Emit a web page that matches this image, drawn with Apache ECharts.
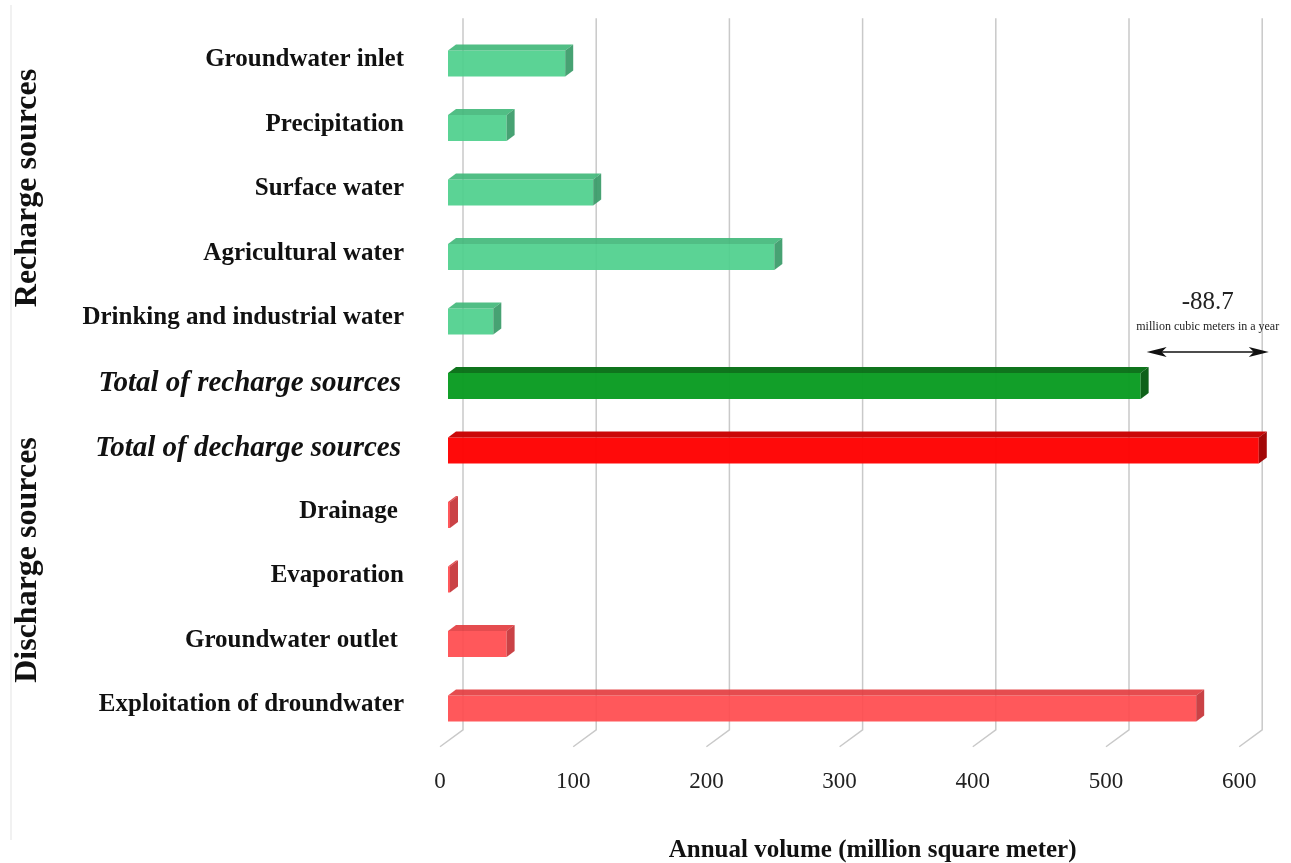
<!DOCTYPE html>
<html>
<head>
<meta charset="utf-8">
<script src="https://cdn.jsdelivr.net/npm/echarts@6/dist/echarts.min.js"></script>
<style>
  html, body { margin: 0; padding: 0; background: #ffffff; }
  #chart { width: 1291px; height: 863px; }
</style>
</head>
<body>
<div id="chart"></div>
<script>
// Annual groundwater budget (million cubic meters per year)
const rechargeNames = ['Groundwater inlet', 'Precipitation', 'Surface water', 'Agricultural water', 'Drinking and industrial water'];
const rechargeValues = [88, 44, 109, 245, 34];
const totalNames = ['Total of recharge sources', 'Total of decharge sources'];
const totalValues = [520, 608.7];
const dischargeNames = ['Drainage ', 'Evaporation', 'Groundwater outlet ', 'Exploitation of droundwater'];
const dischargeValues = [1.5, 1.5, 44, 561.7];
const xTicks = [0, 100, 200, 300, 400, 500, 600];

const SERIF = "'Liberation Serif', 'Times New Roman', 'DejaVu Serif', serif";

// bar kinds: 0 recharge item, 1 recharge total, 2 discharge total, 3 discharge item
const PALETTE = [
  { front: '#4dcf8c', top: '#42b87b', side: '#379a67' },
  { front: '#0a9c22', top: '#077016', side: '#065c12' },
  { front: '#ff0202', top: '#c80000', side: '#a00000' },
  { front: '#ff4a4d', top: '#e33d40', side: '#c53236' }
];

const categories = [...rechargeNames, ...totalNames, ...dischargeNames];
const barData = [];
rechargeValues.forEach((v, i) => barData.push([v, i, 0]));
barData.push([totalValues[0], rechargeNames.length, 1]);
barData.push([totalValues[1], rechargeNames.length + 1, 2]);
dischargeValues.forEach((v, i) => barData.push([v, rechargeNames.length + 2 + i, 3]));

const totalRows = [rechargeNames.length, rechargeNames.length + 1];
const balance = (totalValues[0] - totalValues[1]).toFixed(1);

const BAR_H = 26, DEPTH_X = 8, DEPTH_Y = 6;

function renderBar(params, api) {
  const v = api.value(0), row = api.value(1), kind = api.value(2);
  const p0 = api.coord([0, row]);
  const p1 = api.coord([v, row]);
  const x0 = p0[0], x1 = p1[0];
  const yT = p0[1] - BAR_H / 2, yB = p0[1] + BAR_H / 2;
  const pal = PALETTE[kind];
  const op = (kind === 0 || kind === 3) ? 0.92 : 0.97;
  return {
    type: 'group',
    children: [
      { type: 'rect', shape: { x: x0, y: yT, width: x1 - x0, height: BAR_H }, style: { fill: pal.front, opacity: op } },
      { type: 'polygon', shape: { points: [[x0, yT], [x0 + DEPTH_X, yT - DEPTH_Y], [x1 + DEPTH_X, yT - DEPTH_Y], [x1, yT]] }, style: { fill: pal.top, opacity: op } },
      { type: 'polygon', shape: { points: [[x1, yT], [x1 + DEPTH_X, yT - DEPTH_Y], [x1 + DEPTH_X, yB - DEPTH_Y], [x1, yB]] }, style: { fill: pal.side, opacity: op } }
    ]
  };
}

function renderGridLine(params, api) {
  const cs = params.coordSys;
  const x = api.coord([api.value(0), 0])[0];
  const top = cs.y - 13, back = cs.y + cs.height - 11, front = cs.y + cs.height + 6;
  return {
    type: 'polyline',
    shape: { points: [[x + 15, top], [x + 15, back], [x - 8, front]] },
    style: { stroke: '#c9c9c9', lineWidth: 1.5, fill: null }
  };
}

function renderBalance(params, api) {
  const row = api.value(2);
  const a = api.coord([api.value(0), row]);
  const b = api.coord([api.value(1), row]);
  const xa = a[0] + DEPTH_X - 2, xb = b[0] + DEPTH_X + 2;
  const y = a[1] - 34;
  const cx = (xa + xb) / 2;
  const head = 20, hw = 5;
  return {
    type: 'group',
    children: [
      { type: 'line', shape: { x1: xa + 6, y1: y, x2: xb - 6, y2: y }, style: { stroke: '#111', lineWidth: 1.6 } },
      { type: 'polygon', shape: { points: [[xa, y], [xa + head, y - hw], [xa + head - 5, y], [xa + head, y + hw]] }, style: { fill: '#111' } },
      { type: 'polygon', shape: { points: [[xb, y], [xb - head, y - hw], [xb - head + 5, y], [xb - head, y + hw]] }, style: { fill: '#111' } },
      { type: 'text', x: cx, y: y - 50, style: { text: balance, fill: '#222', font: '25px ' + SERIF, align: 'center', verticalAlign: 'middle' } },
      { type: 'text', x: cx, y: y - 25, style: { text: 'million cubic meters in a year', fill: '#222', font: '12px ' + SERIF, align: 'center', verticalAlign: 'middle' } }
    ]
  };
}

const chart = echarts.init(document.getElementById('chart'), null, { renderer: 'canvas' });
chart.setOption({
  backgroundColor: '#ffffff',
  animation: false,
  grid: { left: 448, right: 43.8, top: 31.25, bottom: 122.25, containLabel: false, outerBoundsMode: 'none' },
  xAxis: {
    type: 'value', min: 0, max: 600, interval: 100,
    axisLine: { show: false }, axisTick: { show: false }, splitLine: { show: false },
    axisLabel: {
      margin: 30, fontFamily: SERIF, fontSize: 23, color: '#222',
      padding: [0, 16, 0, 0]
    },
    name: 'Annual volume (million square meter)',
    nameLocation: 'middle', nameGap: 97,
    nameTextStyle: { fontFamily: SERIF, fontSize: 25, fontWeight: 'bold', color: '#111', padding: [0, 0, 0, 50] }
  },
  yAxis: {
    type: 'category', data: categories, inverse: true,
    axisLine: { show: false }, axisTick: { show: false }, splitLine: { show: false },
    axisLabel: {
      margin: 44, color: '#111',
      formatter: (name, idx) => totalRows.includes(idx) ? '{t|' + name + '}' : '{n|' + name + '}',
      rich: {
        n: { fontFamily: SERIF, fontSize: 25, fontWeight: 'bold', color: '#111', padding: [0, 0, 7, 0] },
        t: { fontFamily: SERIF, fontSize: 29, fontStyle: 'italic', fontWeight: 'bold', color: '#111', padding: [0, 3, 4, 0] }
      }
    }
  },
  graphic: [
    { type: 'line', shape: { x1: 11, y1: 5, x2: 11, y2: 840 }, style: { stroke: '#ececec', lineWidth: 1.5 } },
    { type: 'text', x: 28, y: 188, rotation: Math.PI / 2, style: { text: 'Recharge sources', font: 'bold 32px ' + SERIF, fill: '#111', align: 'center', verticalAlign: 'middle' } },
    { type: 'text', x: 28, y: 560, rotation: Math.PI / 2, style: { text: 'Discharge sources', font: 'bold 32px ' + SERIF, fill: '#111', align: 'center', verticalAlign: 'middle' } }
  ],
  series: [
    { type: 'custom', name: 'grid', renderItem: renderGridLine, data: xTicks.map(v => [v, 0]), encode: { x: 0, y: 1 }, z: 1, silent: true },
    { type: 'custom', name: 'volume', renderItem: renderBar, data: barData, encode: { x: 0, y: 1 }, z: 2 },
    { type: 'custom', name: 'balance', renderItem: renderBalance, data: [[totalValues[0], totalValues[1], totalRows[0]]], encode: { x: [0, 1], y: 2 }, z: 3, silent: true }
  ]
});
</script>
</body>
</html>
